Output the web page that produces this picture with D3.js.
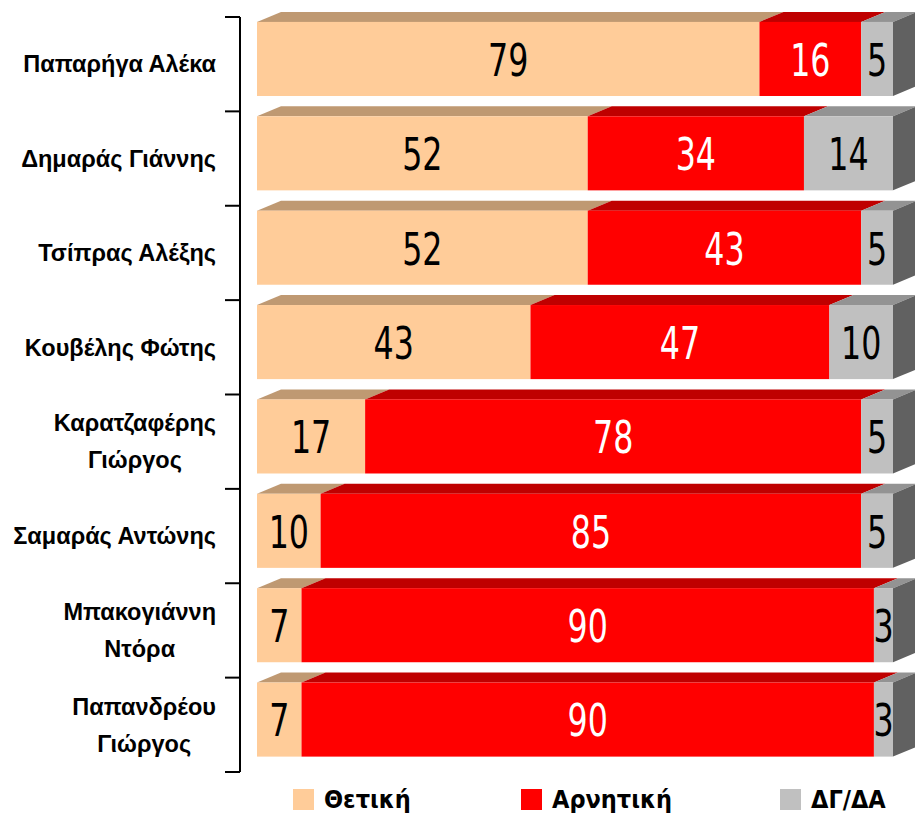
<!DOCTYPE html>
<html>
<head>
<meta charset="utf-8">
<script src="https://cdn.jsdelivr.net/npm/d3@7"></script>
<style>
  body { margin: 0; background: #fff; }
  svg { display: block; }
  .cat { font-family: "Liberation Sans", Arial, sans-serif; font-weight: bold; font-size: 23.5px; fill: #000; }
  .val { font-family: "DejaVu Sans Condensed", "Liberation Sans Narrow", sans-serif; font-size: 44px; }
  .leg { font-family: "DejaVu Sans Condensed", "Liberation Sans Narrow", sans-serif; font-weight: bold; font-size: 25px; }
</style>
</head>
<body>
<div id="chart"></div>
<script>
// politicians, top to bottom
const names = [
  "Παπαρήγα Αλέκα",
  "Δημαράς Γιάννης",
  "Τσίπρας Αλέξης",
  "Κουβέλης Φώτης",
  "Καρατζαφέρης Γιώργος",
  "Σαμαράς Αντώνης",
  "Μπακογιάννη Ντόρα",
  "Παπανδρέου Γιώργος"
];
// how the labels wrap
const labelLines = [
  ["Παπαρήγα Αλέκα"],
  ["Δημαράς Γιάννης"],
  ["Τσίπρας Αλέξης"],
  ["Κουβέλης Φώτης"],
  ["Καρατζαφέρης", "Γιώργος"],
  ["Σαμαράς Αντώνης"],
  ["Μπακογιάννη", "Ντόρα"],
  ["Παπανδρέου", "Γιώργος"]
];
const positive = [79, 52, 52, 43, 17, 10, 7, 7];
const negative = [16, 34, 43, 47, 78, 85, 90, 90];
const dkna = [5, 14, 5, 10, 5, 5, 3, 3];
const seriesNames = ["Θετική", "Αρνητική", "ΔΓ/ΔΑ"];

const width = 915, height = 816;
const depthX = 24, depthY = 10;

const front = ["#FFCC99", "#FF0000", "#C0C0C0"];
const topC = ["#BF9972", "#BF0000", "#939393"];
const sideC = ["#BF9972", "#BF0000", "#616161"];
const textC = ["#000", "#fff", "#000"];

const rows = names.map((n, i) => ({ name: n, s0: positive[i], s1: negative[i], s2: dkna[i] }));
const stacked = d3.stack().keys(["s0", "s1", "s2"])(rows);

const x = d3.scaleLinear().domain([0, 100]).range([257, 893]);
const y = d3.scaleBand().domain(names).range([17, 772]);
const bw = y.bandwidth();
const barTop = d => y(d) + bw * 0.052;
const barH = bw * 0.785;

const svg = d3.select("#chart").append("svg")
  .attr("width", width)
  .attr("height", height);

// 3D bars: top faces first, then side, then fronts
const seg = svg.append("g").selectAll("g")
  .data(stacked)
  .join("g");

seg.selectAll("path.top")
  .data(d => d.map(p => ({ p, k: d.index })))
  .join("path")
  .attr("class", "top")
  .attr("fill", d => topC[d.k])
  .attr("d", d => {
    const x0 = x(d.p[0]), x1 = x(d.p[1]), t = barTop(d.p.data.name);
    return `M${x0},${t}L${x0 + depthX},${t - depthY}L${x1 + depthX},${t - depthY}L${x1},${t}Z`;
  });

const last = stacked[stacked.length - 1];
svg.append("g").selectAll("path")
  .data(last)
  .join("path")
  .attr("fill", sideC[2])
  .attr("d", p => {
    const x1 = x(p[1]), t = barTop(p.data.name);
    return `M${x1},${t}L${x1 + depthX},${t - depthY}L${x1 + depthX},${t + barH - depthY}L${x1},${t + barH}Z`;
  });

seg.selectAll("rect")
  .data(d => d.map(p => ({ p, k: d.index })))
  .join("rect")
  .attr("x", d => x(d.p[0]))
  .attr("y", d => barTop(d.p.data.name))
  .attr("width", d => x(d.p[1]) - x(d.p[0]))
  .attr("height", barH)
  .attr("fill", d => front[d.k]);

// value labels, squeezed horizontally to mimic a narrow face
seg.selectAll("text")
  .data(d => d.map(p => ({ p, k: d.index })))
  .join("text")
  .attr("class", "val")
  .attr("transform", d => {
    const cx = (x(d.p[0]) + x(d.p[1])) / 2;
    const cy = barTop(d.p.data.name) + barH / 2;
    return `translate(${cx},${cy + 1}) scale(0.8,1)`;
  })
  .attr("dy", "0.36em")
  .attr("text-anchor", "middle")
  .attr("fill", d => textC[d.k])
  .text(d => d.p[1] - d.p[0]);

// y axis with ticks at category boundaries
const axisX = 240;
const ax = svg.append("g").attr("stroke", "#000").attr("stroke-width", 2);
ax.append("line")
  .attr("x1", axisX).attr("x2", axisX)
  .attr("y1", y.range()[0]).attr("y2", y.range()[1]);
ax.selectAll("line.tick")
  .data(names.map(n => y(n)).concat([y.range()[1]]))
  .join("line")
  .attr("class", "tick")
  .attr("x1", axisX - 15).attr("x2", axisX)
  .attr("y1", d => d).attr("y2", d => d);

// category labels: block right aligned, lines centred in block
const labG = svg.append("g");
labelLines.forEach((lines, i) => {
  const cy = y(names[i]) + bw / 2;
  const lh = 37;
  const g = labG.append("g");
  const texts = g.selectAll("text")
    .data(lines)
    .join("text")
    .attr("class", "cat")
    .attr("y", (d, j) => cy + (j - (lines.length - 1) / 2) * lh)
    .attr("dy", "0.35em")
    .attr("text-anchor", "middle")
    .text(d => d);
  const w = d3.max(texts.nodes(), n => n.getComputedTextLength());
  texts.attr("x", 216 - w / 2);
});

// legend
const legX = [293, 521, 780];
const leg = svg.append("g").selectAll("g")
  .data(seriesNames)
  .join("g")
  .attr("transform", (d, i) => `translate(${legX[i]},789)`);
leg.append("rect")
  .attr("width", 21).attr("height", 21)
  .attr("fill", (d, i) => front[i]);
leg.append("text")
  .attr("class", "leg")
  .attr("x", 31)
  .attr("y", 19)
  .text(d => d);
</script>
</body>
</html>
